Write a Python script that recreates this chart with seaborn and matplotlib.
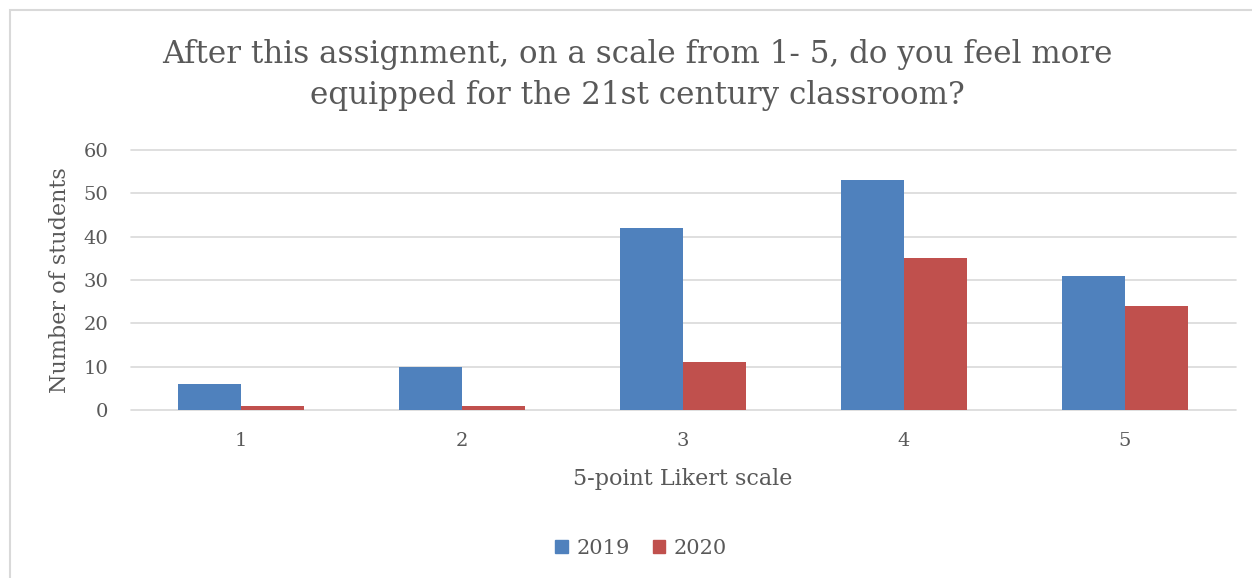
import matplotlib
matplotlib.use("Agg")
import matplotlib.pyplot as plt
import matplotlib.patches as mpatches
import seaborn as sns
import pandas as pd

# survey answers
scale_points = ["1", "2", "3", "4", "5"]
students_2019 = [6, 10, 42, 53, 31]
students_2020 = [1, 1, 11, 35, 24]
years = ["2019", "2020"]
y_ticks = [0, 10, 20, 30, 40, 50, 60]

BLUE = "#4F81BD"
RED = "#C0504D"
GRID = "#D9D9D9"
TEXT = "#595959"

sns.set_theme(style="white")
plt.rcParams["font.family"] = ["DejaVu Serif"]

df = pd.DataFrame({
    "scale": scale_points * 2,
    "students": students_2019 + students_2020,
    "year": [years[0]] * len(scale_points) + [years[1]] * len(scale_points),
})

fig = plt.figure(figsize=(12.52, 5.78), dpi=100)
ax = fig.add_axes([130.5 / 1252, 1 - 410 / 578, 1105 / 1252, 260 / 578])

sns.barplot(data=df, x="scale", y="students", hue="year",
            palette=[BLUE, RED], width=0.57, saturation=1,
            linewidth=0, gap=0, ax=ax, legend=False)

ax.set_ylim(0, 60)
ax.set_xlim(-0.5, len(scale_points) - 0.5)
ax.set_yticks(y_ticks)
ax.yaxis.grid(True, color=GRID, linewidth=1.2)
for gl in ax.get_ygridlines():
    gl.set_clip_on(False)
ax.set_axisbelow(True)
for s in ax.spines.values():
    s.set_visible(False)
ax.tick_params(axis="both", length=0, labelsize=14, colors=TEXT)
ax.tick_params(axis="y", pad=16)
ax.tick_params(axis="x", pad=16)

ax.set_xlabel("5-point Likert scale", fontsize=16, color=TEXT, labelpad=13)
ax.set_ylabel("Number of students", fontsize=16, color=TEXT, labelpad=9)

fig.text(637 / 1252, 1 - 75 / 578,
         "After this assignment, on a scale from 1- 5, do you feel more\n"
         "equipped for the 21st century classroom?",
         ha="center", va="center", multialignment="center",
         fontsize=22.3, color=TEXT, linespacing=1.45)

handles = [mpatches.Patch(color=BLUE, label=years[0]),
           mpatches.Patch(color=RED, label=years[1])]
fig.legend(handles=handles, loc="center", bbox_to_anchor=(641 / 1252, 1 - 548 / 578),
           ncol=2, frameon=False, fontsize=15, handlelength=0.6, handleheight=0.6,
           handletextpad=0.4, columnspacing=1.1, labelcolor=TEXT)

# chart area border (only top and left visible in the crop)
fig.patches.append(mpatches.Rectangle((10 / 1252, -0.1), 1.2, 1.1 - 10 / 578,
                                      transform=fig.transFigure, fill=False,
                                      edgecolor=GRID, linewidth=1.5))

fig.savefig("out.png", dpi=100)
